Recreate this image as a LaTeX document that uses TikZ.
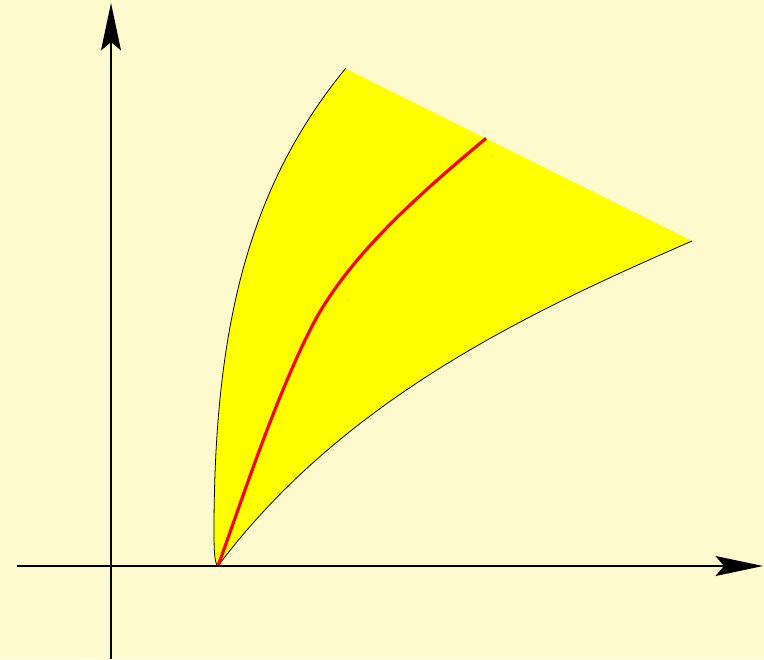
\documentclass[tikz,border=0pt]{standalone}
\usepackage{xcolor}
\usepackage{tikz}
\usetikzlibrary{arrows.meta}
\definecolor{paperbg}{RGB}{255,250,205}
\definecolor{regionyellow}{RGB}{255,255,0}
\definecolor{pathred}{RGB}{255,0,0}
\tikzset{
    axis/.style={line width=0.8pt, black, -{Stealth[length=0.95cm, width=0.4cm, inset=0.17cm]}},
    region/.style={fill=regionyellow, draw=none},
    edge/.style={line width=0.45pt, black},
    trajectory/.style={line width=1.8pt, pathred}
}

\begin{document}
\begin{tikzpicture}
    % Background and frame
    \path[use as bounding box] (-2.22,-1.86) rectangle (13.06,11.32);
    \fill[paperbg] (-2.22,-1.86) rectangle (13.06,11.32);

    % Corners of the region
    \coordinate (apex) at (2.14,0);
    \coordinate (hook) at (2.06,0.7);
    \coordinate (topleft) at (4.69,9.95);
    \coordinate (topright) at (11.62,6.5);
    \coordinate (redmid) at (3.98,4.72);
    \coordinate (redend) at (7.5,8.554);

    % Yellow region
    \fill[region] (apex) .. controls (2.07,0.05) and (2.06,0.3) .. (hook)
        .. controls (2.06,5.0) and (2.85,7.7) .. (topleft)
        -- (topright) .. controls (8.41,5.1) and (4.66,3.36) .. (apex) -- cycle;

    % Left and lower boundary
    \draw[edge] (apex) .. controls (2.07,0.05) and (2.06,0.3) .. (hook)
        .. controls (2.06,5.0) and (2.85,7.7) .. (topleft);
    \draw[edge] (topright) .. controls (8.41,5.1) and (4.66,3.36) .. (apex);

    % Red curve
    \draw[trajectory] (apex) .. controls (2.68,1.5) and (3.265,3.29) .. (redmid)
        .. controls (4.695,6.15) and (6.12,7.4) .. (redend);

    % Axes
    \coordinate (xmin) at (-1.88,0);
    \coordinate (xmax) at (13.04,0);
    \coordinate (ymin) at (0,-1.86);
    \coordinate (ymax) at (0,11.26);
    \draw[axis] (xmin) -- (xmax);
    \draw[axis] (ymin) -- (ymax);
\end{tikzpicture}
\end{document}
